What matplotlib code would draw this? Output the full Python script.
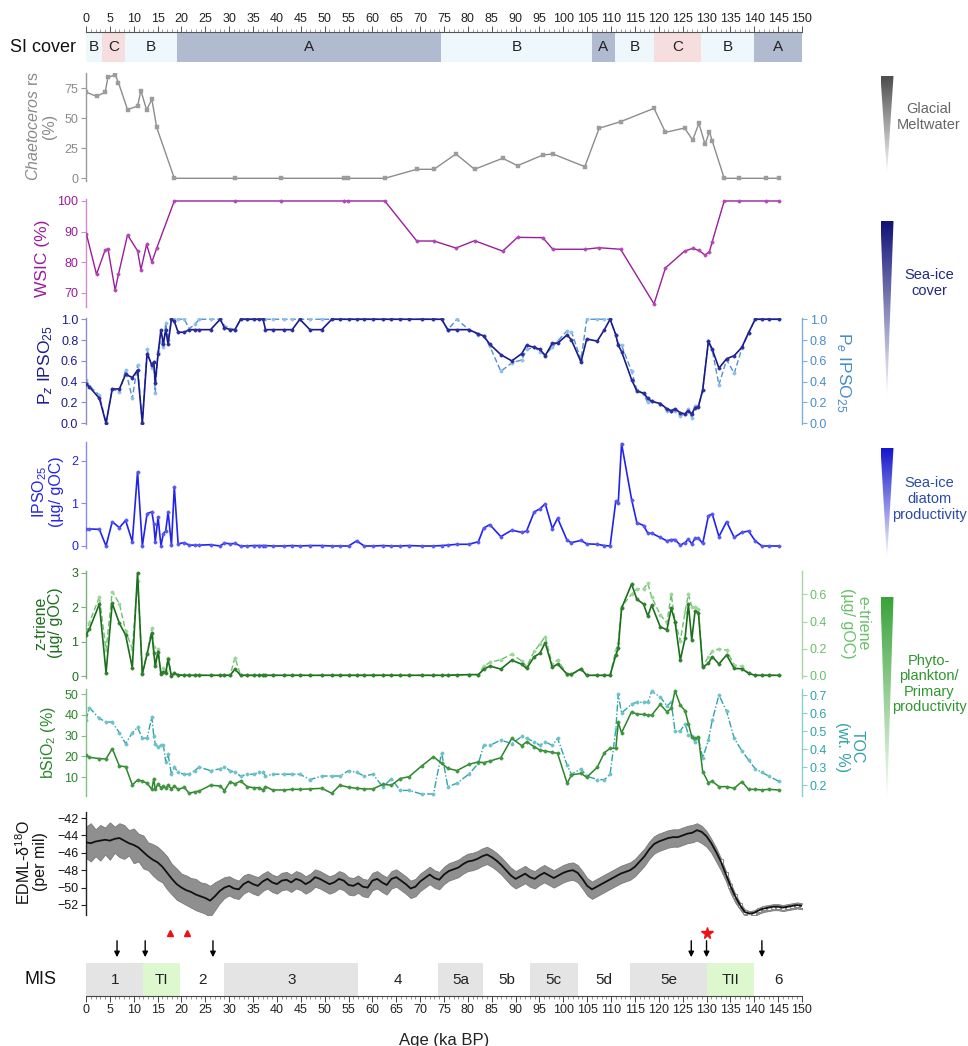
import numpy as np
import matplotlib
matplotlib.use("Agg")
import matplotlib.pyplot as plt
from matplotlib.patches import Polygon
from matplotlib.colors import LinearSegmentedColormap
from matplotlib.ticker import MultipleLocator

plt.rcParams['font.family'] = ['Liberation Sans', 'DejaVu Sans']
plt.rcParams['mathtext.fontset'] = 'custom'
plt.rcParams['mathtext.rm'] = 'Liberation Sans'
plt.rcParams['mathtext.it'] = 'Liberation Sans:italic'

# ---------------- data ----------------
# diatom samples (Chaetoceros resting spores, WSIC)
ages_diatom = [0.1, 2.2, 4.0, 4.6, 6.1, 6.8, 8.7, 10.8, 11.5, 12.7,
               13.8, 14.8, 18.5, 31.3, 40.8, 54.0, 54.8, 62.6, 69.3, 72.9,
               77.5, 81.4, 87.3, 90.4, 95.7, 97.8, 104.5, 107.5, 112.0, 119.0,
               121.4, 125.4, 127.1, 128.4, 129.7, 130.6, 131.2, 133.7, 136.7, 142.5,
               145.2]
chaetoceros = [71.7, 68.3, 71.7, 84.0, 86.3, 79.7, 57.2, 60.2, 73.0, 57.0,
               65.8, 42.5, 0, 0, 0, 0, 0, 0, 7.5, 7.5,
               20.3, 7.5, 16.7, 10.5, 19.4, 20.3, 9.7, 41.7, 47.2, 58.3,
               38.3, 41.9, 31.9, 45.8, 28.3, 38.9, 31.1, 0, 0, 0,
               0]
wsic = [89.1, 76.0, 83.9, 84.4, 70.8, 76.0, 88.9, 83.7, 77.5, 85.8,
        80.0, 84.5, 100, 100, 100, 100, 100, 100, 86.9, 86.9,
        84.6, 87.0, 83.6, 88.1, 88.0, 84.2, 84.2, 84.7, 84.2, 66.3,
        78.1, 83.6, 84.5, 83.8, 82.3, 83.4, 86.7, 100, 100, 100,
        100]

# biomarker / bulk samples
ages = [0.0, 0.7, 2.8, 4.2, 5.5, 7.0, 8.3, 9.7, 10.8, 11.8,
        12.8, 13.8, 14.2, 14.5, 15.1, 15.7, 16.2, 16.7, 17.2, 17.9,
        18.5, 19.3, 20.6, 21.6, 22.8, 23.7, 26.1, 28.1, 29.0, 30.2,
        31.2, 32.4, 33.8, 35.1, 36.3, 37.1, 37.6, 39.1, 41.5, 43.2,
        44.8, 46.9, 49.4, 51.5, 53.2, 55.0, 56.7, 58.3, 60.1, 62.2,
        64.0, 65.8, 67.7, 70.3, 72.8, 74.5, 75.8, 77.7, 80.2, 82.2,
        83.3, 84.6, 86.9, 89.2, 91.3, 92.3, 93.9, 95.1, 96.2, 97.7,
        98.8, 100.8, 101.7, 103.7, 104.9, 107.1, 108.6, 109.8, 111.0, 111.5,
        112.2, 114.3, 115.4, 116.8, 117.7, 118.5, 120.3, 121.7, 122.6, 123.4,
        124.5, 125.5, 126.2, 126.9, 127.6, 128.3, 129.2, 130.4, 131.2, 132.6,
        134.2, 135.8, 137.4, 138.8, 140.2, 141.6, 143.0, 145.2]
pz_ipso = [0.38, 0.35, 0.24, 0.00, 0.33, 0.33, 0.47, 0.44, 0.51, 0.00,
           0.67, 0.56, 0.59, 0.39, 0.67, 0.90, 0.76, 0.90, 0.76, 1.00,
           0.98, 0.875, 0.875, 0.90, 0.90, 0.90, 0.90, 1.00, 0.92, 0.90,
           0.90, 1.00, 1.00, 1.00, 1.00, 1.00, 0.90, 0.90, 0.90, 0.90,
           1.00, 0.90, 0.90, 1.00, 1.00, 1.00, 1.00, 1.00, 1.00, 1.00,
           1.00, 1.00, 1.00, 1.00, 1.00, 1.00, 0.90, 0.90, 0.90, 0.86,
           0.84, 0.76, 0.66, 0.60, 0.67, 0.75, 0.73, 0.71, 0.65, 0.77,
           0.77, 0.85, 0.80, 0.59, 0.81, 0.79, 0.90, 1.00, 0.85, 0.75,
           0.69, 0.42, 0.31, 0.29, 0.24, 0.21, 0.19, 0.14, 0.12, 0.14,
           0.10, 0.09, 0.12, 0.09, 0.15, 0.16, 0.32, 0.79, 0.71, 0.53,
           0.62, 0.65, 0.73, 0.87, 1.00, 1.00, 1.00, 1.00]
pe_ipso = [0.42, 0.36, 0.27, 0.00, 0.33, 0.30, 0.51, 0.24, 0.56, 0.00,
           0.71, 0.53, 0.59, 0.29, 0.69, 0.78, 0.73, 0.96, 0.80, 1.00,
           1.00, 1.00, 1.00, 0.91, 0.95, 1.00, 1.00, 1.00, 0.94, 0.91,
           0.90, 1.00, 1.00, 1.00, 1.00, 1.00, 1.00, 1.00, 1.00, 1.00,
           1.00, 1.00, 1.00, 1.00, 1.00, 1.00, 1.00, 1.00, 1.00, 1.00,
           1.00, 1.00, 1.00, 1.00, 1.00, 1.00, 0.90, 1.00, 0.90, 0.85,
           0.84, 0.74, 0.50, 0.58, 0.61, 0.71, 0.73, 0.69, 0.66, 0.73,
           0.79, 0.89, 0.88, 0.61, 1.00, 1.00, 1.00, 1.00, 0.85, 0.76,
           0.75, 0.50, 0.32, 0.28, 0.20, 0.21, 0.19, 0.12, 0.12, 0.12,
           0.07, 0.09, 0.14, 0.05, 0.17, 0.17, 0.32, 0.79, 0.70, 0.37,
           0.61, 0.48, 0.72, 0.87, 1.00, 1.00, 1.00, 1.00]
ipso25 = [0.40, 0.40, 0.39, 0.00, 0.57, 0.43, 0.60, 0.10, 1.74, 0.00,
          0.76, 0.80, 0.52, 0.10, 0.68, 0.00, 0.29, 0.35, 0.80, 0.02,
          1.39, 0.05, 0.08, 0.02, 0.02, 0.02, 0.03, 0.00, 0.07, 0.05,
          0.06, 0.00, 0.00, 0.01, 0.01, 0.01, 0.01, 0.00, 0.00, 0.01,
          0.00, 0.01, 0.01, 0.00, 0.00, 0.00, 0.12, 0.00, 0.00, 0.01,
          0.00, 0.00, 0.01, 0.00, 0.00, 0.01, 0.02, 0.04, 0.04, 0.10,
          0.42, 0.50, 0.22, 0.37, 0.32, 0.35, 0.80, 0.87, 0.99, 0.41,
          0.65, 0.13, 0.08, 0.13, 0.05, 0.04, 0.01, 0.00, 1.06, 1.00,
          2.40, 1.09, 0.55, 0.48, 0.30, 0.30, 0.20, 0.12, 0.15, 0.15,
          0.02, 0.08, 0.16, 0.05, 0.18, 0.18, 0.06, 0.71, 0.75, 0.22,
          0.57, 0.20, 0.32, 0.35, 0.12, 0.00, 0.00, 0.00]
z_triene = [1.19, 1.36, 2.09, 0.10, 2.11, 1.53, 1.19, 0.24, 3.00, 0.06,
            0.64, 1.26, 0.68, 0.29, 0.71, 0.06, 0.13, 0.08, 0.48, 0.00,
            0.08, 0.03, 0.02, 0.02, 0.02, 0.02, 0.02, 0.02, 0.02, 0.02,
            0.20, 0.02, 0.02, 0.02, 0.02, 0.02, 0.02, 0.02, 0.02, 0.02,
            0.02, 0.02, 0.02, 0.02, 0.02, 0.02, 0.02, 0.02, 0.02, 0.02,
            0.02, 0.02, 0.02, 0.02, 0.02, 0.02, 0.02, 0.03, 0.04, 0.04,
            0.19, 0.29, 0.20, 0.46, 0.34, 0.22, 0.56, 0.66, 0.97, 0.25,
            0.35, 0.05, 0.05, 0.21, 0.02, 0.02, 0.02, 0.02, 0.61, 0.80,
            1.97, 2.67, 2.23, 2.09, 1.74, 2.06, 1.43, 1.34, 1.97, 1.58,
            0.46, 1.09, 2.08, 1.05, 1.89, 1.84, 0.25, 0.37, 0.56, 0.35,
            0.61, 0.22, 0.21, 0.08, 0.02, 0.02, 0.02, 0.02]
e_triene = [0.31, 0.39, 0.58, 0.19, 0.62, 0.53, 0.33, 0.20, 0.70, 0.02,
            0.17, 0.35, 0.21, 0.09, 0.20, 0.02, 0.06, 0.04, 0.135, 0.005,
            0.02, 0.01, 0.005, 0.005, 0.005, 0.005, 0.005, 0.005, 0.005, 0.005,
            0.135, 0.005, 0.005, 0.005, 0.005, 0.005, 0.005, 0.005, 0.005, 0.005,
            0.005, 0.005, 0.005, 0.005, 0.005, 0.005, 0.005, 0.005, 0.005, 0.005,
            0.005, 0.005, 0.005, 0.005, 0.005, 0.005, 0.005, 0.01, 0.01, 0.01,
            0.07, 0.10, 0.12, 0.16, 0.11, 0.07, 0.18, 0.235, 0.29, 0.08,
            0.12, 0.01, 0.01, 0.05, 0.005, 0.005, 0.005, 0.005, 0.19, 0.24,
            0.51, 0.60, 0.64, 0.64, 0.68, 0.58, 0.45, 0.39, 0.60, 0.40,
            0.26, 0.47, 0.60, 0.51, 0.51, 0.49, 0.07, 0.14, 0.18, 0.20,
            0.19, 0.08, 0.07, 0.02, 0.005, 0.005, 0.005, 0.005]
bsio2 = [20.7, 19.6, 19.0, 18.8, 23.8, 15.4, 15.1, 6.3, 8.7, 8.2,
         7.1, 4.2, 9.4, 4.2, 6.8, 5.0, 5.8, 4.7, 6.2, 4.4,
         5.8, 4.2, 5.2, 2.3, 3.0, 3.4, 6.2, 5.8, 3.6, 7.9,
         6.8, 8.2, 5.5, 5.0, 5.0, 3.9, 5.5, 3.9, 3.9, 4.2,
         4.2, 4.4, 4.7, 2.3, 6.2, 5.2, 4.7, 4.4, 4.4, 6.6,
         6.2, 9.4, 10.3, 15.4, 19.9, 16.7, 14.3, 13.2, 16.2, 17.4,
         17.0, 17.8, 19.4, 28.7, 25.2, 27.1, 24.7, 23.1, 22.6, 22.0,
         21.5, 7.1, 11.1, 11.9, 10.0, 14.8, 21.8, 23.9, 23.9, 36.4,
         31.4, 41.5, 40.4, 40.2, 39.9, 39.9, 45.0, 41.5, 43.1, 51.6,
         44.7, 42.0, 35.8, 29.5, 28.7, 29.5, 12.7, 7.4, 8.1, 5.5,
         5.5, 4.7, 7.9, 4.2, 4.2, 3.9, 4.2, 3.9]
toc = [0.56, 0.63, 0.57, 0.55, 0.55, 0.49, 0.43, 0.49, 0.52, 0.46,
       0.46, 0.58, 0.47, 0.43, 0.41, 0.42, 0.42, 0.33, 0.37, 0.26,
       0.30, 0.27, 0.26, 0.26, 0.28, 0.30, 0.28, 0.29, 0.30, 0.28,
       0.27, 0.25, 0.26, 0.26, 0.27, 0.27, 0.25, 0.26, 0.26, 0.26,
       0.26, 0.23, 0.25, 0.25, 0.25, 0.28, 0.27, 0.25, 0.26, 0.19,
       0.235, 0.17, 0.17, 0.15, 0.15, 0.38, 0.19, 0.21, 0.26, 0.32,
       0.42, 0.42, 0.45, 0.43, 0.47, 0.46, 0.44, 0.42, 0.44, 0.42,
       0.46, 0.31, 0.26, 0.29, 0.25, 0.23, 0.23, 0.26, 0.51, 0.705,
       0.60, 0.65, 0.66, 0.66, 0.66, 0.72, 0.69, 0.64, 0.66, 0.50,
       0.50, 0.54, 0.48, 0.47, 0.44, 0.46, 0.35, 0.45, 0.56, 0.70,
       0.61, 0.46, 0.39, 0.34, 0.29, 0.27, 0.25, 0.22]

# EDML ice core delta-18O: smoothed curve and the range of the raw record, 1-ka steps
edml_age = list(range(0, 151))
edml_smooth = [-44.8, -44.9, -44.7, -44.6, -44.5, -44.6, -44.4, -44.3, -44.6, -44.9,
               -45.1, -45.4, -45.9, -46.4, -46.8, -47.1, -47.6, -48.3, -49.0, -49.6,
               -50.0, -50.3, -50.5, -50.8, -51.0, -51.2, -51.5, -51.0, -50.4, -50.0,
               -49.8, -50.1, -50.2, -49.6, -49.3, -49.6, -49.8, -49.3, -49.0, -49.4,
               -49.6, -49.2, -49.1, -49.4, -49.0, -49.2, -49.6, -49.3, -48.8, -49.0,
               -49.3, -49.6, -49.4, -49.0, -49.2, -49.7, -49.8, -49.5, -49.9, -50.0,
               -49.2, -49.0, -49.4, -49.7, -49.0, -48.8, -49.2, -49.6, -50.1, -49.9,
               -49.3, -48.9, -48.5, -48.9, -49.1, -48.5, -48.1, -47.9, -47.7, -47.3,
               -47.0, -46.9, -46.7, -46.4, -46.2, -46.5, -46.9, -47.4, -48.0, -48.6,
               -49.0, -48.7, -48.4, -48.8, -49.0, -48.6, -48.3, -48.6, -48.9, -48.6,
               -48.3, -48.1, -48.0, -48.3, -49.0, -49.8, -50.2, -49.9, -49.6, -49.3,
               -49.0, -48.7, -48.4, -48.2, -48.0, -47.6, -47.0, -46.4, -45.6, -45.0,
               -44.7, -44.5, -44.3, -44.2, -44.2, -44.0, -43.8, -43.7, -43.4, -43.6,
               -44.1, -44.9, -45.9, -47.0, -48.4, -49.8, -51.0, -52.0, -52.8, -53.0,
               -52.9, -52.6, -52.4, -52.3, -52.2, -52.2, -52.3, -52.2, -52.1, -52.0,
               -52.1]
edml_high = [-43.0, -42.6, -43.3, -42.8, -43.1, -42.5, -43.0, -42.6, -42.8, -43.4,
             -43.2, -43.8, -44.0, -44.8, -45.0, -45.3, -45.8, -46.4, -47.3, -47.8,
             -48.4, -48.6, -48.9, -49.0, -49.4, -49.5, -49.8, -49.4, -49.1, -48.8,
             -48.7, -49.0, -49.2, -48.6, -48.4, -48.6, -48.8, -48.4, -48.1, -48.5,
             -48.7, -48.3, -48.2, -48.5, -48.1, -48.3, -48.7, -48.4, -47.9, -48.1,
             -48.4, -48.7, -48.5, -48.1, -48.3, -48.8, -48.9, -48.6, -49.0, -49.1,
             -48.3, -48.1, -48.5, -48.8, -48.1, -47.9, -48.3, -48.7, -49.2, -49.0,
             -48.4, -48.0, -47.6, -48.0, -48.2, -47.6, -47.2, -47.0, -46.8, -46.4,
             -46.1, -46.0, -45.8, -45.5, -45.3, -45.6, -46.0, -46.5, -47.1, -47.7,
             -48.1, -47.8, -47.5, -47.9, -48.1, -47.7, -47.4, -47.7, -48.0, -47.7,
             -47.4, -47.2, -47.1, -47.4, -48.1, -48.9, -49.3, -49.0, -48.7, -48.4,
             -48.1, -47.8, -47.5, -47.3, -47.1, -46.7, -46.1, -45.5, -44.7, -44.1,
             -43.8, -43.6, -43.4, -43.3, -43.3, -43.1, -42.9, -42.8, -42.6, -42.9,
             -43.5, -44.4, -45.4, -46.6, -48.0, -49.4, -50.7, -51.7, -52.5, -52.7,
             -52.6, -52.3, -52.1, -52.0, -51.9, -51.9, -52.0, -51.9, -51.8, -51.7,
             -51.8]
edml_low = [-46.6, -47.0, -46.4, -46.9, -46.2, -46.8, -46.0, -46.5, -46.7, -46.3,
            -47.2, -47.0, -47.8, -48.0, -48.6, -49.1, -49.4, -50.2, -50.8, -51.4,
            -51.7, -52.0, -52.3, -52.6, -52.8, -53.0, -53.4, -52.6, -51.8, -51.2,
            -50.9, -51.2, -51.3, -50.7, -50.4, -50.7, -50.9, -50.4, -50.1, -50.5,
            -50.7, -50.3, -50.2, -50.5, -50.1, -50.3, -50.7, -50.4, -49.9, -50.1,
            -50.4, -50.7, -50.5, -50.1, -50.3, -50.8, -50.9, -50.6, -51.0, -51.1,
            -50.3, -50.1, -50.5, -50.8, -50.1, -49.9, -50.3, -50.7, -51.2, -51.0,
            -50.4, -50.0, -49.6, -50.0, -50.2, -49.6, -49.2, -49.0, -48.8, -48.4,
            -48.1, -48.0, -47.8, -47.5, -47.3, -47.6, -48.0, -48.5, -49.1, -49.7,
            -50.1, -49.8, -49.5, -49.9, -50.1, -49.7, -49.4, -49.7, -50.0, -49.7,
            -49.4, -49.2, -49.1, -49.4, -50.1, -50.9, -51.3, -51.0, -50.7, -50.4,
            -50.1, -49.8, -49.5, -49.3, -49.1, -48.7, -48.1, -47.5, -46.7, -46.1,
            -45.8, -45.6, -45.4, -45.3, -45.3, -45.1, -44.9, -44.8, -44.6, -44.9,
            -45.3, -46.0, -47.0, -48.0, -49.2, -50.6, -51.7, -52.5, -53.2, -53.4,
            -53.3, -53.0, -52.8, -52.7, -52.6, -52.6, -52.7, -52.6, -52.5, -52.4,
            -52.5]

# sea-ice cover classes along the core
si_edges = [0, 3.3, 8.2, 19.0, 74.3, 106.0, 110.8, 119.0, 128.9, 140.0, 150]
si_class = ['B', 'C', 'B', 'A', 'B', 'A', 'B', 'C', 'B', 'A']

# marine isotope stages
mis_edges = [0, 12.0, 19.7, 29.0, 57.0, 73.7, 83.2, 93.0, 103.0, 114.0, 130.0, 140.0, 150]
mis_labels = ['1', 'TI', '2', '3', '4', '5a', '5b', '5c', '5d', '5e', 'TII', '6']
mis_kind = ['g', 't', 'w', 'g', 'w', 'g', 'w', 'g', 'w', 'g', 't', 'w']

arrow_ages = [6.5, 12.4, 26.6, 126.8, 130.0, 141.6]
triangle_ages = [17.6, 21.2]
star_ages = [130.0]

# ---------------- layout helpers ----------------
W, H = 968, 1046
fig = plt.figure(figsize=(W / 100, H / 100), dpi=100)
XL, XR = 86, 802


def ax_px(y0, y1, x0=XL, x1=XR):
    return fig.add_axes([x0 / W, 1 - y1 / H, (x1 - x0) / W, (y1 - y0) / H])


TICK_FS = 9
LAB_FS = 11.5
MS = 2.4


def style_panel(ax, color, spine_color, ylim, ticks, side='left'):
    ax.set_xlim(0, 150)
    ax.set_ylim(*ylim)
    ax.patch.set_alpha(0)
    for s in ['top', 'bottom', 'left', 'right']:
        ax.spines[s].set_visible(False)
    ax.spines[side].set_visible(True)
    ax.spines[side].set_color(spine_color)
    ax.spines[side].set_linewidth(1.0)
    ax.set_xticks([])
    ax.set_yticks(ticks)
    ax.tick_params(axis='y', colors=spine_color, labelcolor=color, labelsize=TICK_FS,
                   length=3.5, width=0.8, direction='out',
                   left=(side == 'left'), labelleft=(side == 'left'),
                   right=(side == 'right'), labelright=(side == 'right'), pad=2)


def series(ax, x, y, color, mfc, ls='-', marker='o', ms=MS, lw=1.0, z=3):
    ax.plot(x, y, color=color, ls=ls, lw=lw, marker=marker, ms=ms,
            mfc=mfc, mec=mfc, mew=0.3, zorder=z)


overlay = fig.add_axes([0, 0, 1, 1])
overlay.set_axis_off()
overlay.patch.set_alpha(0)


def ptext(x, y, s, **kw):
    overlay.text(x, y, s, ha=kw.pop('ha', 'center'), va=kw.pop('va', 'center'), **kw)


# ---------------- SI cover bar ----------------
ax_si = ax_px(32, 62)
ax_si.set_xlim(0, 150)
ax_si.set_ylim(0, 1)
si_col = {'A': '#b0bbd0', 'B': '#eef8fc', 'C': '#f6dede'}
for a0, a1, c in zip(si_edges[:-1], si_edges[1:], si_class):
    ax_si.axvspan(a0, a1, color=si_col[c], lw=0)
    ax_si.text((a0 + a1) / 2, 0.5, c, ha='center', va='center', fontsize=11, color='#222222')
for s in ['bottom', 'left', 'right']:
    ax_si.spines[s].set_visible(False)
ax_si.spines['top'].set_color('#555555')
ax_si.spines['top'].set_linewidth(0.8)
ax_si.set_yticks([])
ax_si.xaxis.tick_top()
ax_si.xaxis.set_major_locator(MultipleLocator(5))
ax_si.xaxis.set_minor_locator(MultipleLocator(1))
ax_si.tick_params(axis='x', which='major', length=4, width=0.7, colors='#555555',
                  labelcolor='#222222', labelsize=TICK_FS, pad=1)
ax_si.tick_params(axis='x', which='minor', length=2, width=0.5, colors='#777777')
ptext(43, 47, 'SI cover', fontsize=13, color='#111111')

# ---------------- panel 1: Chaetoceros ----------------
ax1 = ax_px(73, 181)
style_panel(ax1, '#8a8a8a', '#9a9a9a', (-2.25, 87.75), [0, 25, 50, 75])
series(ax1, ages_diatom, chaetoceros, '#8c8c8c', '#9c9c9c', marker='s', ms=2.2, lw=1.0)
ptext(41, 126, r'$\it{Chaetoceros}$ rs' + '\n(%)', rotation=90, fontsize=LAB_FS,
      color='#8a8a8a', linespacing=1.0)

# ---------------- panel 2: WSIC ----------------
ax2 = ax_px(199, 306.7)
style_panel(ax2, '#9a1c9a', '#cf8ccf', (65.4, 100.65), [70, 80, 90, 100])
series(ax2, ages_diatom, wsic, '#9b1d9b', '#b347b3')
ptext(42, 258, 'WSIC (%)', rotation=90, fontsize=LAB_FS + 1, color='#9a1c9a')

# ---------------- panel 3: PIPSO25 ----------------
ax3 = ax_px(317.7, 424.3)
style_panel(ax3, '#1c1c8c', '#8c8cc8', (-0.01, 1.015), [0, 0.2, 0.4, 0.6, 0.8, 1.0])
ax3.set_yticklabels(['0.0', '0.2', '0.4', '0.6', '0.8', '1.0'])
ax3r = ax3.twinx()
style_panel(ax3r, '#4a8cc7', '#7fb0dc', (-0.01, 1.015), [0, 0.2, 0.4, 0.6, 0.8, 1.0], side='right')
ax3r.set_yticklabels(['0.0', '0.2', '0.4', '0.6', '0.8', '1.0'])
series(ax3r, ages, pe_ipso, '#4f92cf', '#8dbfe8', ls=(0, (4, 2)), z=2)
ax3.set_zorder(ax3r.get_zorder() + 1)
series(ax3, ages, pz_ipso, '#1a1a8a', '#2c2c9c', lw=1.2)
ptext(46, 365, r'P$_z$ IPSO$_{25}$', rotation=90, fontsize=LAB_FS + 1, color='#1c1c8c')
ptext(843, 372, r'P$_e$ IPSO$_{25}$', rotation=270, fontsize=LAB_FS + 1, color='#4a8cc7')

# ---------------- panel 4: IPSO25 ----------------
ax4 = ax_px(441.7, 548.3)
style_panel(ax4, '#2424e6', '#8a8af5', (-0.054, 2.445), [0, 1, 2])
series(ax4, ages, ipso25, '#2323ee', '#5656f2', lw=1.2)
ptext(47, 492, 'IPSO$_{25}$\n(µg/ gOC)', rotation=90, fontsize=LAB_FS, color='#2424e6',
      linespacing=1.0)

# ---------------- panel 5: trienes ----------------
ax5 = ax_px(571, 678)
style_panel(ax5, '#1e6e1e', '#7bb07b', (-0.058, 3.05), [0, 1, 2, 3])
ax5r = ax5.twinx()
style_panel(ax5r, '#6abf69', '#a5d6a4', (-0.0147, 0.771), [0, 0.2, 0.4, 0.6], side='right')
ax5r.set_yticklabels(['0.0', '0.2', '0.4', '0.6'])
series(ax5r, ages, e_triene, '#6cc06c', '#9cd69b', ls=(0, (4, 2)), z=2)
ax5.set_zorder(ax5r.get_zorder() + 1)
series(ax5, ages, z_triene, '#1b6e1b', '#2f7f2f', lw=1.2)
ptext(48, 623, 'z-triene\n(µg/ gOC)', rotation=90, fontsize=LAB_FS, color='#1e6e1e',
      linespacing=1.0)
ptext(855, 623, 'e-triene\n(µg/ gOC)', rotation=270, fontsize=LAB_FS, color='#6abf69',
      linespacing=1.0)

# ---------------- panel 6: bSiO2 and TOC ----------------
ax6 = ax_px(689.3, 796)
style_panel(ax6, '#2a862a', '#86bf86', (1.0, 52.3), [10, 20, 30, 40, 50])
ax6r = ax6.twinx()
style_panel(ax6r, '#2fa3a8', '#8ccdd0', (0.139, 0.732), [0.2, 0.3, 0.4, 0.5, 0.6, 0.7],
            side='right')
series(ax6r, ages, toc, '#2fa3a8', '#6cc3c7', ls=(0, (5, 1.5, 1, 1.5)), z=2)
ax6.set_zorder(ax6r.get_zorder() + 1)
series(ax6, ages, bsio2, '#2a862a', '#3f963f', lw=1.1)
ptext(48, 743, r'bSiO$_2$ (%)', rotation=90, fontsize=LAB_FS, color='#2a862a')
ptext(850, 747, 'TOC\n(wt. %)', rotation=270, fontsize=LAB_FS, color='#2fa3a8',
      linespacing=1.0)

# ---------------- panel 7: EDML ----------------
ax7 = ax_px(812, 915)
style_panel(ax7, '#111111', '#222222', (-53.15, -41.31), [-52, -50, -48, -46, -44, -42])
ax7.fill_between(edml_age, edml_low, edml_high, color='#8f8f8f', lw=0.6,
                 edgecolor='#7a7a7a', zorder=1)
ax7.plot(edml_age[133:], edml_smooth[133:], ls='none', marker='s', ms=3, mfc='white',
         mec='#8a8a8a', mew=0.8, zorder=2)
ax7.plot(edml_age, edml_smooth, color='#111111', lw=1.3, zorder=3)
ptext(31, 862, 'EDML-δ$^{18}$O\n(per mil)', rotation=90, fontsize=LAB_FS, color='#111111',
      linespacing=1.0)

# ---------------- event markers ----------------
ax_ev = ax_px(925, 960)
ax_ev.set_xlim(0, 150)
ax_ev.set_ylim(0, 1)
ax_ev.set_axis_off()
for a in arrow_ages:
    ax_ev.annotate('', xy=(a, 0.08), xytext=(a, 0.55),
                   arrowprops=dict(arrowstyle='-|>', color='black', lw=1.0,
                                   mutation_scale=8, shrinkA=0, shrinkB=0))
ax_ev.plot(triangle_ages, [0.78] * len(triangle_ages), ls='none', marker='^',
           ms=5, color='#ee1111')
ax_ev.plot(star_ages, [0.78] * len(star_ages), ls='none', marker='*', ms=8.5, color='#ee1111')

# ---------------- MIS bar ----------------
ax_mis = ax_px(963, 996)
ax_mis.set_xlim(0, 150)
ax_mis.set_ylim(0, 1)
mis_col = {'g': '#e4e4e4', 't': '#ddf7cf', 'w': '#ffffff'}
for a0, a1, lab, k in zip(mis_edges[:-1], mis_edges[1:], mis_labels, mis_kind):
    ax_mis.axvspan(a0, a1, color=mis_col[k], lw=0)
    ax_mis.text((a0 + a1) / 2, 0.5, lab, ha='center', va='center', fontsize=11, color='#222222')
for s in ['top', 'left', 'right']:
    ax_mis.spines[s].set_visible(False)
ax_mis.spines['bottom'].set_color('#444444')
ax_mis.spines['bottom'].set_linewidth(0.8)
ax_mis.set_yticks([])
ax_mis.xaxis.set_major_locator(MultipleLocator(5))
ax_mis.xaxis.set_minor_locator(MultipleLocator(1))
ax_mis.tick_params(axis='x', which='major', length=4, width=0.7, colors='#444444',
                   labelcolor='#222222', labelsize=TICK_FS, pad=2)
ax_mis.tick_params(axis='x', which='minor', length=2, width=0.5, colors='#666666')
ptext(40, 980, 'MIS', fontsize=13, color='#111111')
ptext(444, 1040, 'Age (ka BP)', fontsize=12, color='#222222')

# ---------------- gradient wedges on the right ----------------
wedges = [
    (76, 175, '#4d4d4d', 'Glacial\nMeltwater', 117, '#666666'),
    (221, 400, '#111177', 'Sea-ice\ncover', 283, '#1f2a80'),
    (448, 560, '#1515cc', 'Sea-ice\ndiatom\nproductivity', 499, '#2a4aa8'),
    (597, 805, '#3aa33a', 'Phyto-\nplankton/\nPrimary\nproductivity', 684, '#2f962f'),
]
grad = np.linspace(0, 1, 256).reshape(-1, 1)
for top, bot, col, label, ty, tcol in wedges:
    cmap = LinearSegmentedColormap.from_list('w', [col, '#ffffff'])
    im = overlay.imshow(grad, cmap=cmap, extent=(880.5, 893.5, bot, top), origin='upper',
                        aspect='auto', interpolation='bilinear', zorder=2)
    tri = Polygon([(880.5, top), (893.5, top), (887, bot)], closed=True,
                  transform=overlay.transData, facecolor='none', edgecolor='none')
    overlay.add_patch(tri)
    im.set_clip_path(tri)
    ptext(929, ty, label, fontsize=10.5, color=tcol, linespacing=1.15)

overlay.set_xlim(0, W)
overlay.set_ylim(H, 0)

fig.savefig('out.png', dpi=100)
